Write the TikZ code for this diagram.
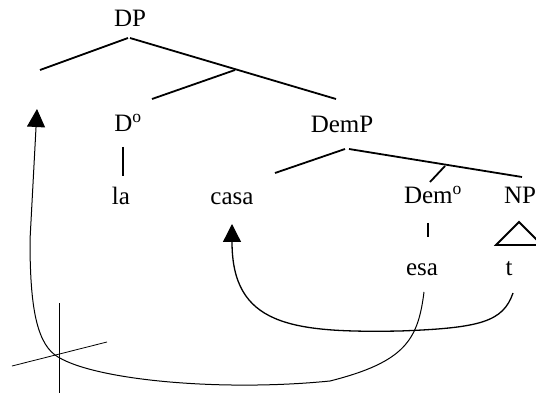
\documentclass[tikz,border=0pt]{standalone}
\usepackage{fontspec}
\setmainfont{Liberation Serif}
\usetikzlibrary{arrows.meta}

\begin{document}
\begin{tikzpicture}[
        x=1pt, y=-1pt,
        cat/.style={inner sep=0pt, anchor=base, font=\fontsize{25}{30}\selectfont},
        branch/.style={line width=1.8pt},
        move/.style={-{Triangle[length=18pt, width=18pt]}},
        strike/.style={line width=0.8pt}
    ]
        \useasboundingbox (0,0) rectangle (536,393);

        \node[cat] (dp) at (130,27) {DP};
        \node[cat] (d) at (128,132) {D\textsuperscript{o}};
        \node[cat] (la) at (121,205) {la};
        \node[cat] (casa) at (232,205) {casa};
        \node[cat] (demp) at (342,133) {DemP};
        \node[cat] (dem) at (433,204) {Dem\textsuperscript{o}};
        \node[cat] (np) at (520,204) {NP};
        \node[cat] (esa) at (422,275) {esa};
        \node[cat] (t) at (509,275) {t};

        \coordinate (dptop) at (129,38);
        \coordinate (spec) at (40,70);
        \coordinate (dbar) at (235,70);
        \coordinate (demptop) at (347,149);
        \coordinate (dembar) at (445,166);

        % DP and its D-bar
        \draw[branch] ([xshift=-1pt]dptop) -- (spec);
        \draw[branch] ([xshift=1pt]dptop) -- (336,99);
        \draw[branch] (dbar) -- (152,99);
        \draw[branch] (123,147) -- (123,176);

        % DemP
        \draw[branch] ([xshift=-2pt]demptop) -- (275,173);
        \draw[branch] ([xshift=2pt]demptop) -- (522,177);
        \draw[branch] (dembar) -- (430,182);
        \draw[branch] (428,223) -- (428,237);
        \draw[branch] (519,222) -- (496,245) -- (542,245) -- cycle;

        % movement of casa out of NP
        \draw[move, line width=1.3pt] (513,293)
            .. controls (503,322) and (480,328) .. (400,331)
            .. controls (290,333) and (232,325) .. (232,224);

        % movement of esa to the DP edge
        \draw[move, line width=1pt] (424,292)
            .. controls (418,340) and (405,362) .. (330,381)
            .. controls (220,392) and (90,380) .. (55,355)
            .. controls (35,340) and (30,300) .. (30,240)
            -- (37,109);

        % crossed-out path
        \draw[strike] (59,303) -- (59,393);
        \draw[strike] (12,366) -- (107,342);
    \end{tikzpicture}
\end{document}
